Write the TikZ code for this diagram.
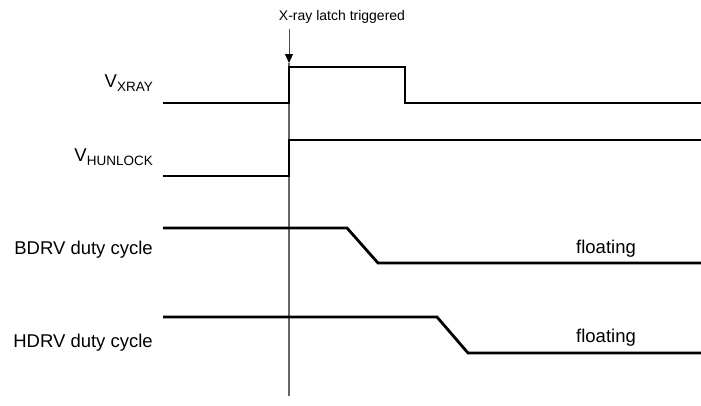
\documentclass[tikz,border=0pt]{standalone}
\usepackage{fontspec}
\setmainfont{Liberation Sans}
\usetikzlibrary{arrows.meta}
\begin{document}
\begin{tikzpicture}[x=1pt,y=-1pt,
  signal/.style={line width=2.8pt,line join=miter,black},
  marker/.style={line width=1.2pt,draw=black!60},
  lbl/.style={inner sep=0pt,font=\fontsize{18.5}{20}\selectfont},
  small/.style={inner sep=0pt,font=\fontsize{14}{16}\selectfont}]
\useasboundingbox (0,0) rectangle (701,405);
% trigger marker
\coordinate (atop) at (289,29);
\coordinate (atip) at (289,63);
\coordinate (mbot) at (289,396);
\draw[line width=0.9pt,draw=black!70,-{Triangle[width=8pt,length=9pt,color=black,fill=black]}] (atop) -- (atip);
\draw[marker] (atip) -- (mbot);
\node[small,anchor=base] (trig) at (342,20) {X-ray latch triggered};
% VXRAY
\coordinate (x0) at (163,103);
\coordinate (x1) at (289,103);
\coordinate (x2) at (289,67);
\coordinate (x3) at (405,67);
\coordinate (x4) at (405,103);
\coordinate (x5) at (701,103);
\draw[signal] (x0) -- (x1) -- (x2) -- (x3) -- (x4) -- (x5);
\node[lbl,anchor=base east] (lx) at (153,87) {V\raisebox{-4.5pt}{\fontsize{13.5}{14}\selectfont XRAY}};
% VHUNLOCK
\coordinate (h0) at (163,176);
\coordinate (h1) at (289,176);
\coordinate (h2) at (289,140);
\coordinate (h3) at (701,140);
\draw[signal] (h0) -- (h1) -- (h2) -- (h3);
\node[lbl,anchor=base east] (lh) at (153,161) {V\raisebox{-4.5pt}{\fontsize{13.5}{14}\selectfont HUNLOCK}};
% BDRV
\coordinate (b0) at (163,228);
\coordinate (b1) at (347,228);
\coordinate (b2) at (378,263);
\coordinate (b3) at (701,263);
\draw[signal] (b0) -- (b1) -- (b2) -- (b3);
\node[lbl,anchor=base east] (lb) at (153,254) {BDRV duty cycle};
\node[lbl,anchor=base] (fb) at (606,253) {floating};
% HDRV
\coordinate (d0) at (163,317);
\coordinate (d1) at (437,317);
\coordinate (d2) at (468,353);
\coordinate (d3) at (701,353);
\draw[signal] (d0) -- (d1) -- (d2) -- (d3);
\node[lbl,anchor=base east] (ld) at (153,347) {HDRV duty cycle};
\node[lbl,anchor=base] (fd) at (606,342) {floating};
\end{tikzpicture}
\end{document}
